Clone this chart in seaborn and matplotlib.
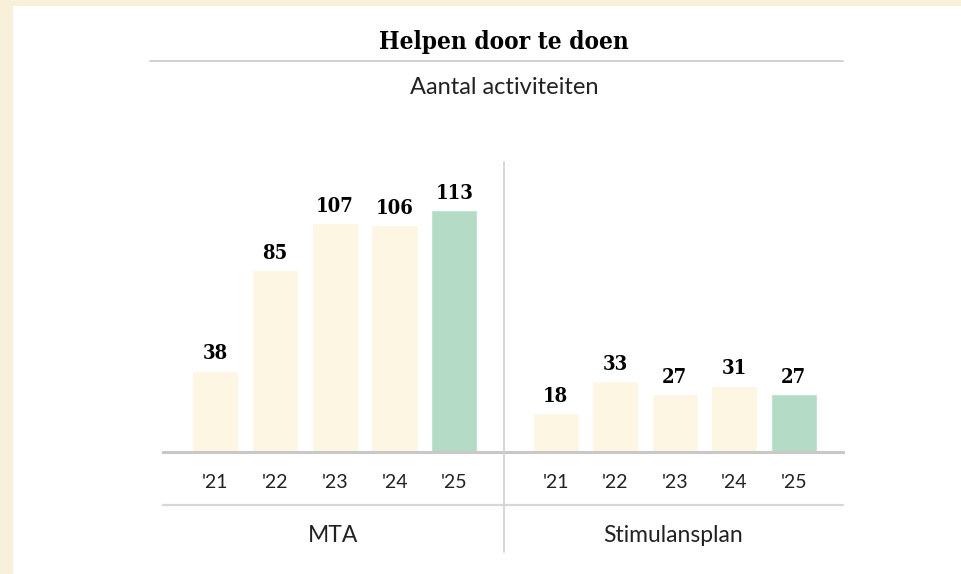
import pandas as pd
import matplotlib
matplotlib.use('Agg')
import matplotlib.pyplot as plt
import seaborn as sns
from matplotlib.lines import Line2D
from matplotlib.patches import Rectangle

years = ["'21", "'22", "'23", "'24", "'25"]
mta = [38, 85, 107, 106, 113]
stimulans = [18, 33, 27, 31, 27]
groups = ['MTA', 'Stimulansplan']

cream = '#fdf6e2'
green = '#b4dbc5'
colors = [cream, cream, cream, cream, green]
grey = '#c8c8c8'

sns.set_theme(style='white')
plt.rcParams['font.family'] = ['Lato', 'DejaVu Sans']

W, H = 962, 574
fig = plt.figure(figsize=(W / 100, H / 100), dpi=100, facecolor='#f8f0d9')
# white card
fig.add_artist(Rectangle((13 / W, 0), 1, 1 - 6 / H, transform=fig.transFigure,
                         facecolor='white', edgecolor='none', zorder=0))


def fx(px):
    return px / W


def fy(py):
    return 1 - py / H


ymax = 290 / 2.14
axes_px = [(163, 504), (504, 843)]
for (x0, x1), name, vals in zip(axes_px, groups, [mta, stimulans]):
    ax = fig.add_axes([fx(x0), fy(452), fx(x1 - x0), (452 - 162) / H])
    ax.set_facecolor('none')
    df = pd.DataFrame({'year': years, 'value': vals})
    sns.barplot(data=df, x='year', y='value', hue='year', palette=colors,
                legend=False, width=0.77, ax=ax, saturation=1)
    ax.set_xlim(-0.87, 4.83)
    ax.set_ylim(0, ymax)
    for p, v in zip(ax.patches, vals):
        ax.text(p.get_x() + p.get_width() / 2, v + 3.5, str(v), ha='center', va='bottom',
                fontsize=14.5, fontweight='bold', fontstretch='condensed',
                family='DejaVu Serif', color='#000000')
    ax.set_xlabel('')
    ax.set_ylabel('')
    ax.set_yticks([])
    ax.tick_params(axis='x', length=0, pad=16, labelsize=14, labelcolor='#222222')
    for s in ['top', 'left', 'right']:
        ax.spines[s].set_visible(False)
    ax.spines['bottom'].set_color(grey)
    ax.spines['bottom'].set_linewidth(2.2)
    fig.text(fx((x0 + x1) / 2), fy(535), name, ha='center', va='center',
             fontsize=16.5, color='#222222')

# rules
fig.add_artist(Line2D([fx(150), fx(843)], [fy(61), fy(61)], color=grey, lw=1.2))
fig.add_artist(Line2D([fx(163), fx(843)], [fy(505), fy(505)], color='#d6d6d6', lw=1.6))
fig.add_artist(Line2D([fx(504), fx(504)], [fy(162), fy(552)], color='#d0d0d0', lw=1.2))

fig.text(fx(504), fy(42), 'Helpen door te doen', ha='center', va='center',
         fontsize=17.5, fontweight='bold', fontstretch='condensed',
         family='DejaVu Serif', color='#000000')
fig.text(fx(504), fy(88), 'Aantal activiteiten', ha='center', va='center',
         fontsize=17, color='#222222')

fig.savefig('out.png', dpi=100, facecolor=fig.get_facecolor())
